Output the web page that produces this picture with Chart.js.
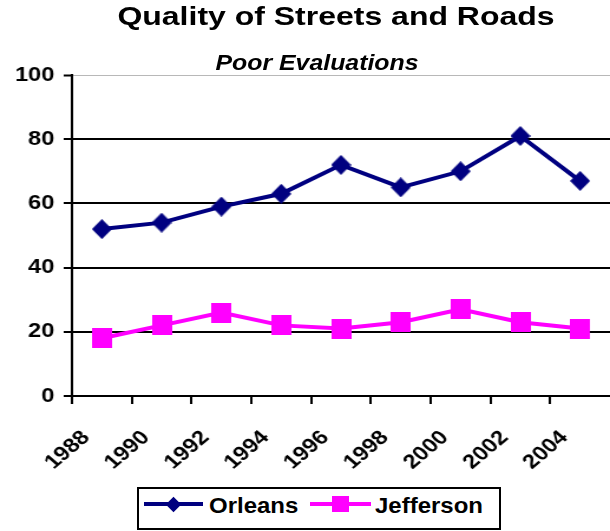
<!DOCTYPE html>
<html>
<head>
<meta charset="utf-8">
<script src="https://cdn.jsdelivr.net/npm/chart.js@4"></script>
<style>
  body { margin: 0; background: #fff; }
  #wrap { position: relative; width: 610px; height: 531px; overflow: hidden; font-family: "Liberation Sans", Arial, sans-serif; }
  #chart { position: absolute; left: 0; top: 0; }
  .txt { position: absolute; white-space: nowrap; font-weight: bold; color: #000; }
  #title { left: 336px; top: 3px; font-size: 26px; line-height: 26px; transform: translateX(-50%) scaleX(1.23); }
  #subtitle { left: 317px; top: 52px; font-size: 22px; line-height: 22px; font-style: italic; transform: translateX(-50%) scaleX(1.13); }
  #legend { position: absolute; left: 137px; top: 487px; width: 364px; height: 43px; border: 2px solid #000; box-sizing: border-box; background: #fff; }
  .legLine { position: absolute; height: 4px; top: 502px; }
  .legName { top: 495px; font-size: 22px; line-height: 22px; transform: scaleX(1.09); transform-origin: left center; }
</style>
</head>
<body>
<div id="wrap">
  <!-- the picture is drawn a bit narrower and stretched wide, like the original -->
  <canvas id="chart" width="517" height="531" style="width:610px;height:531px"></canvas>
  <div id="title" class="txt">Quality of Streets and Roads</div>
  <div id="subtitle" class="txt">Poor Evaluations</div>
  <div id="legend"></div>
  <div class="legLine" style="left:144px;width:59px;background:#000080"></div>
  <div style="position:absolute;left:168px;top:499px;width:11px;height:11px;background:#000080;transform:rotate(45deg)"></div>
  <div class="txt legName" style="left:209px">Orleans</div>
  <div class="legLine" style="left:310px;width:61px;background:#ff00ff"></div>
  <div style="position:absolute;left:332px;top:496px;width:17px;height:16px;background:#ff00ff"></div>
  <div class="txt legName" style="left:375px">Jefferson</div>
</div>
<script>
const years = [1989, 1991, 1993, 1995, 1997, 1999, 2001, 2003, 2005];
const orleans = [52, 54, 59, 63, 72, 65, 70, 81, 67];
const jefferson = [18, 22, 26, 22, 21, 23, 27, 23, 21];
const yearTicks = [1988, 1990, 1992, 1994, 1996, 1998, 2000, 2002, 2004];
const valueTicks = [0, 20, 40, 60, 80, 100];

// markers are drawn narrower since the canvas gets stretched sideways
function makeMarker(w, h, color, diamond) {
  let c = document.createElement("canvas");
  c.width = w;
  c.height = h;
  let g = c.getContext("2d");
  g.fillStyle = color;
  if (diamond) {
    g.beginPath();
    g.moveTo(w / 2, 0);
    g.lineTo(w, h / 2);
    g.lineTo(w / 2, h);
    g.lineTo(0, h / 2);
    g.closePath();
    g.fill();
  } else {
    g.fillRect(0, 0, w, h);
  }
  return c;
}

let diamond = makeMarker(17, 20, "#000080", true);
let square = makeMarker(17, 20, "#ff00ff", false);

Chart.defaults.font.family = '"Liberation Sans", Arial, sans-serif';
Chart.defaults.font.size = 20;
Chart.defaults.font.weight = "bold";
Chart.defaults.color = "#000";

const ctx = document.getElementById("chart");

new Chart(ctx, {
  type: "line",
  data: {
    datasets: [
      {
        label: "Orleans",
        data: years.map((yr, i) => ({ x: yr, y: orleans[i] })),
        borderColor: "#000080",
        backgroundColor: "#000080",
        borderWidth: 4,
        pointStyle: diamond,
        pointRadius: 10,
        tension: 0,
      },
      {
        label: "Jefferson",
        data: years.map((yr, i) => ({ x: yr, y: jefferson[i] })),
        borderColor: "#ff00ff",
        backgroundColor: "#ff00ff",
        borderWidth: 4,
        pointStyle: square,
        pointRadius: 10,
        tension: 0,
      },
    ],
  },
  options: {
    responsive: false,
    maintainAspectRatio: false,
    devicePixelRatio: 1,
    animation: false,
    clip: false,
    // no extra room for the markers, the plot runs to the right edge
    layout: { autoPadding: false, padding: { top: 75, left: 0, right: 0, bottom: 0 } },
    plugins: {
      legend: { display: false },
      tooltip: { enabled: false },
    },
    scales: {
      x: {
        type: "linear",
        min: 1988,
        max: 2006,
        afterBuildTicks: (scale) => {
          scale.ticks = yearTicks.map((v) => ({ value: v }));
        },
        afterFit: (scale) => {
          scale.height = 135;
          scale.paddingLeft = 0;
          scale.paddingRight = 0;
        },
        ticks: {
          autoSkip: false,
          minRotation: 45,
          maxRotation: 45,
          padding: 22,
          labelOffset: 12,
          callback: (v) => String(v),
        },
        grid: {
          drawOnChartArea: false,
          drawTicks: true,
          tickLength: 8,
          color: "#000",
          lineWidth: 2,
        },
        border: { color: "#000", width: 2 },
      },
      y: {
        min: 0,
        max: 100,
        afterBuildTicks: (scale) => {
          scale.ticks = valueTicks.map((v) => ({ value: v }));
        },
        afterFit: (scale) => {
          scale.width = 61;
        },
        ticks: { padding: 8 },
        grid: {
          color: (c) => (c.tick && c.tick.value === 100 ? "#b8b8b8" : "#000"),
          lineWidth: (c) => (c.tick && c.tick.value === 100 ? 1 : 2),
          tickColor: "#000",
          tickWidth: 2,
          tickLength: 7,
        },
        border: { color: "#000", width: 2 },
      },
    },
  },
});
</script>
</body>
</html>
